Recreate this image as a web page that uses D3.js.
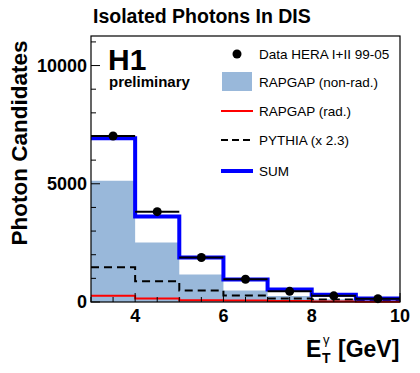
<!DOCTYPE html>
<html>
<head>
<meta charset="utf-8">
<script src="https://cdn.jsdelivr.net/npm/d3@7"></script>
<style>
  body { margin: 0; background: #fff; }
  text { font-family: "Liberation Sans", Arial, sans-serif; }
</style>
</head>
<body>
<svg id="chart" width="420" height="373"></svg>
<script>
var binEdges = [3, 4, 5, 6, 7, 8, 9, 10];
var dataVals = [7020, 3820, 1880, 960, 450, 260, 140];
var dataErr = [90, 65, 45, 32, 22, 18, 13];
var rapgapNonRad = [5130, 2520, 1160, 485, 250, 120, 60];
var rapgapRad = [262, 148, 70, 60, 40, 25, 15];
var pythia = [1470, 880, 485, 280, 150, 110, 60];
var sumVals = [6930, 3620, 1880, 950, 527, 310, 150];
var yTicks = [0, 5000, 10000];
var xTicks = [4, 6, 8, 10];

var margin = {left: 91, right: 20, top: 36, bottom: 71};
var width = 420 - margin.left - margin.right;
var height = 373 - margin.top - margin.bottom;

var svg = d3.select("#chart");
var g = svg.append("g")
  .attr("transform", "translate(" + margin.left + "," + margin.top + ")");

var x = d3.scaleLinear().domain([3, 10]).range([0, width]);
var y = d3.scaleLinear().domain([0, 11250]).range([height, 0]);

function stepPoints(vals) {
  var pts = [];
  vals.forEach(function(v, i) {
    pts.push([binEdges[i], v]);
    pts.push([binEdges[i + 1], v]);
  });
  return pts;
}
var line = d3.line().x(function(d) { return x(d[0]); }).y(function(d) { return y(d[1]); });

// filled RAPGAP non-rad histogram
var area = d3.area()
  .x(function(d) { return x(d[0]); })
  .y0(y(0))
  .y1(function(d) { return y(d[1]); });
g.append("path").attr("d", area(stepPoints(rapgapNonRad))).attr("fill", "#99b8da");

g.append("path").attr("d", line(stepPoints(pythia)))
  .attr("fill", "none").attr("stroke", "#000").attr("stroke-width", 2)
  .attr("stroke-dasharray", "8,5");

g.append("path").attr("d", line(stepPoints(rapgapRad)))
  .attr("fill", "none").attr("stroke", "#ff0000").attr("stroke-width", 2);

g.append("path").attr("d", line(stepPoints(sumVals)))
  .attr("fill", "none").attr("stroke", "#0000ff").attr("stroke-width", 4);

// data points with error bars
var pts = g.selectAll(".pt").data(dataVals).enter().append("g").attr("class", "pt");
pts.append("line")
  .attr("x1", function(d, i) { return x(binEdges[i]); })
  .attr("x2", function(d, i) { return x(binEdges[i + 1]); })
  .attr("y1", function(d) { return y(d); })
  .attr("y2", function(d) { return y(d); })
  .attr("stroke", "#000").attr("stroke-width", 2);
pts.append("line")
  .attr("x1", function(d, i) { return x((binEdges[i] + binEdges[i + 1]) / 2); })
  .attr("x2", function(d, i) { return x((binEdges[i] + binEdges[i + 1]) / 2); })
  .attr("y1", function(d, i) { return y(d - dataErr[i]); })
  .attr("y2", function(d, i) { return y(d + dataErr[i]); })
  .attr("stroke", "#000").attr("stroke-width", 2);
pts.append("circle")
  .attr("cx", function(d, i) { return x((binEdges[i] + binEdges[i + 1]) / 2); })
  .attr("cy", function(d) { return y(d); })
  .attr("r", 4.5).attr("fill", "#000");

// frame
g.append("rect").attr("width", width).attr("height", height)
  .attr("fill", "none").attr("stroke", "#000").attr("stroke-width", 1.2);

// y ticks (inward)
var yMinor = d3.range(0, 11001, 1000);
g.selectAll(".ytick").data(yMinor).enter().append("line")
  .attr("x1", 0)
  .attr("x2", function(d) { return d % 5000 === 0 ? 9 : 5; })
  .attr("y1", function(d) { return y(d); })
  .attr("y2", function(d) { return y(d); })
  .attr("stroke", "#000").attr("stroke-width", 1);
g.selectAll(".ylab").data(yTicks).enter().append("text")
  .attr("x", -4)
  .attr("y", function(d) { return y(d); })
  .attr("dy", "0.36em")
  .attr("text-anchor", "end")
  .attr("font-size", 18).attr("font-weight", "bold")
  .text(function(d) { return d; });

// x ticks (inward)
var xMinor = d3.range(3, 10.01, 0.5);
g.selectAll(".xtick").data(xMinor).enter().append("line")
  .attr("x1", function(d) { return x(d); })
  .attr("x2", function(d) { return x(d); })
  .attr("y1", height)
  .attr("y2", function(d) { return d % 2 === 0 ? height - 9 : height - 5; })
  .attr("stroke", "#000").attr("stroke-width", 1);
g.selectAll(".xlab").data(xTicks).enter().append("text")
  .attr("x", function(d) { return x(d); })
  .attr("y", height + 20)
  .attr("text-anchor", "middle")
  .attr("font-size", 18).attr("font-weight", "bold")
  .text(function(d) { return d; });

// axis titles
svg.append("text").attr("x", 306).attr("y", 357)
  .attr("font-size", 23).attr("font-weight", "bold").text("E");
svg.append("text").attr("x", 322).attr("y", 363)
  .attr("font-size", 14).attr("font-weight", "bold").text("T");
svg.append("text").attr("x", 323).attr("y", 344)
  .attr("font-size", 13).text("γ");
svg.append("text").attr("x", 338).attr("y", 357)
  .attr("font-size", 23).attr("font-weight", "bold").text("[GeV]");

svg.append("text")
  .attr("transform", "translate(27,143) rotate(-90)")
  .attr("text-anchor", "middle")
  .attr("font-size", 22.5).attr("font-weight", "bold")
  .text("Photon Candidates");

svg.append("text")
  .attr("x", 93).attr("y", 23)
  .attr("font-size", 19.5).attr("font-weight", "bold")
  .text("Isolated Photons In DIS");

svg.append("text")
  .attr("x", 108).attr("y", 70)
  .attr("font-size", 30).attr("font-weight", "bold")
  .text("H1");
svg.append("text")
  .attr("x", 109).attr("y", 87)
  .attr("font-size", 15).attr("font-weight", "bold")
  .text("preliminary");

// legend
var legendNames = ["Data HERA I+II 99-05", "RAPGAP (non-rad.)", "RAPGAP (rad.)", "PYTHIA (x 2.3)", "SUM"];
var legendY = [54, 82, 111, 140, 171];
var leg = svg.selectAll(".legend").data(legendNames).enter().append("g")
  .attr("transform", function(d, i) { return "translate(0," + legendY[i] + ")"; });
leg.append("text")
  .attr("x", 259).attr("dy", "0.36em")
  .attr("font-size", 13.5)
  .text(function(d) { return d; });
leg.each(function(d, i) {
  var s = d3.select(this);
  if (i === 0) s.append("circle").attr("cx", 237).attr("r", 4.5).attr("fill", "#000");
  if (i === 1) s.append("rect").attr("x", 222).attr("y", -10).attr("width", 30).attr("height", 19).attr("fill", "#99b8da");
  if (i === 2) s.append("line").attr("x1", 221).attr("x2", 253).attr("stroke", "#ff0000").attr("stroke-width", 2);
  if (i === 3) s.append("line").attr("x1", 221).attr("x2", 253).attr("stroke", "#000").attr("stroke-width", 2).attr("stroke-dasharray", "7,4");
  if (i === 4) s.append("line").attr("x1", 221).attr("x2", 253).attr("stroke", "#0000ff").attr("stroke-width", 4);
});
</script>
</body>
</html>
